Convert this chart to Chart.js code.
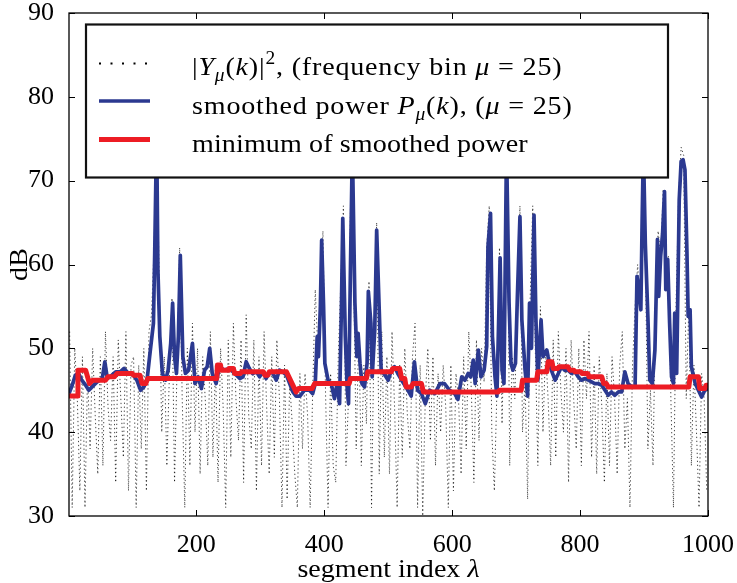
<!DOCTYPE html>
<html>
<head>
<meta charset="utf-8">
<script src="https://cdn.jsdelivr.net/npm/chart.js@4.4.0/dist/chart.umd.min.js"></script>
<style>
  html, body { margin: 0; padding: 0; background: #fff; }
</style>
</head>
<body>
<canvas id="c" width="737" height="583"></canvas>
<script>
// axis ticks
const xTicks = [200, 400, 600, 800, 1000];
const yTicks = [30, 40, 50, 60, 70, 80, 90];

// raw power |Y_mu(k)|^2 in dB, one value every 4 segments starting at segment 2
const noiseStart = 2;
const noiseStep = 4;
const noiseDb = [
  52, 31, 50, 44, 33, 49, 31, 47, 38, 50, 42, 35, 49, 36, 52, 43, 39, 49, 34, 51, 44, 37, 52, 33, 48,
  49, 31, 48, 38, 50, 33, 52, 54, 62, 77, 58, 40, 49, 36, 47, 56, 34, 48, 62, 44, 31, 50, 36, 53, 40,
  50, 35, 49, 44, 36, 52, 37, 48, 34, 50, 43, 31, 51, 37, 53, 44, 39, 51, 34, 54, 42, 38, 51, 33, 49,
  36, 52, 43, 35, 49, 37, 51, 44, 31, 48, 32, 46, 41, 35, 31, 47, 38, 47, 42, 31, 45, 57, 50, 56, 64,
  45, 31, 47, 36, 34, 49, 58, 67, 36, 44, 74, 59, 38, 52, 36, 48, 41, 58, 31, 52, 65, 35, 52, 37, 49,
  35, 52, 43, 31, 48, 37, 50, 42, 38, 49, 53, 31, 48, 30, 44, 50, 39, 49, 36, 47, 40, 48, 43, 31, 48,
  33, 47, 44, 35, 49, 38, 52, 45, 34, 51, 39, 50, 46, 62, 67, 40, 33, 45, 62, 41, 55, 74, 36, 49, 44,
  56, 67, 40, 46, 32, 56, 67, 50, 36, 55, 40, 50, 44, 36, 51, 37, 52, 45, 40, 50, 34, 51, 44, 38, 50,
  36, 51, 44, 52, 37, 48, 35, 49, 43, 34, 47, 36, 49, 44, 35, 48, 52, 38, 44, 31, 48, 55, 60, 55, 75,
  62, 38, 45, 36, 55, 64, 61, 69, 58, 61, 44, 31, 55, 68, 74, 73, 44, 55, 36, 48, 40, 31, 47, 44, 33
];

// smoothed power P_mu(k)
const blueX = [
  1, 6, 11, 16, 21, 27, 32, 37, 45, 53, 57, 61, 68, 74, 81, 87, 94, 102, 107, 113,
  118, 123, 127, 130, 133, 135, 138, 140, 143, 147, 152, 156, 160, 163, 166, 169, 172, 175, 179, 183,
  188, 194, 198, 203, 208, 213, 217, 221, 225, 231, 236, 244, 252, 260, 268, 273, 278, 283, 288, 294,
  299, 304, 309, 315, 320, 325, 330, 335, 341, 346, 351, 356, 362, 369, 377, 382, 386, 389, 391, 394,
  396, 399, 401, 406, 411, 416, 420, 424, 427, 429, 433, 436, 438, 441, 444, 448, 451, 453, 456, 459,
  463, 467, 469, 473, 475, 479, 482, 486, 489, 495, 500, 505, 510, 515, 521, 526, 531, 536, 541, 546,
  552, 558, 565, 573, 581, 588, 596, 604, 609, 615, 620, 625, 629, 633, 636, 641, 645, 650, 654, 656,
  660, 663, 667, 670, 675, 678, 681, 685, 689, 692, 695, 699, 702, 706, 709, 714, 718, 721, 724, 728,
  731, 734, 739, 742, 748, 750, 755, 761, 766, 771, 776, 781, 787, 792, 797, 802, 808, 813, 818, 823,
  828, 834, 839, 844, 849, 854, 860, 865, 870, 875, 881, 886, 889, 892, 895, 897, 899, 902, 906, 909,
  913, 917, 921, 923, 926, 929, 932, 934, 937, 940, 943, 946, 948, 951, 955, 958, 961, 964, 967, 969,
  972, 974, 980, 985, 990, 995, 1000
];
const blueY = [
  44.6, 45.6, 46.8, 47.0, 46.2, 45.6, 45.0, 45.4, 46.0, 46.4, 48.4, 46.4, 46.8, 47.2, 47.2, 47.6, 47.0, 46.8, 46.2, 45.0,
  45.4, 46.2, 49.0, 51.0, 53.0, 61.3, 76.0, 59.4, 51.4, 47.0, 46.2, 47.4, 50.6, 55.4, 49.0, 47.0, 51.4, 61.1, 49.0, 47.0,
  47.4, 50.6, 45.8, 46.6, 45.2, 47.4, 47.8, 50.0, 47.0, 45.8, 47.8, 47.4, 47.6, 47.0, 46.4, 46.6, 48.4, 47.6, 47.0, 47.2,
  46.6, 47.2, 46.4, 47.2, 47.0, 46.2, 47.4, 47.2, 46.8, 45.8, 44.8, 44.3, 44.3, 45.0, 45.0, 44.6, 45.8, 51.4, 49.0, 55.0,
  62.9, 55.0, 48.2, 46.2, 45.8, 44.0, 45.8, 43.4, 55.4, 65.5, 51.4, 45.0, 43.4, 59.4, 74.0, 55.4, 49.0, 51.8, 48.2, 45.8,
  45.4, 48.2, 56.8, 53.0, 46.6, 52.2, 64.1, 54.6, 47.4, 46.8, 46.2, 47.4, 47.8, 47.0, 46.2, 45.6, 45.0, 44.3, 48.4, 45.0,
  44.6, 43.4, 45.0, 44.6, 45.8, 45.8, 45.0, 44.6, 43.9, 46.6, 46.2, 47.0, 46.6, 48.6, 45.8, 49.8, 46.6, 47.4, 50.2, 62.1,
  66.1, 51.4, 46.6, 44.3, 60.8, 47.4, 45.8, 74.0, 55.4, 48.2, 47.4, 48.2, 56.2, 65.7, 53.4, 47.4, 44.3, 55.4, 50.0, 65.9,
  53.4, 46.2, 53.4, 49.0, 49.8, 49.0, 47.4, 46.2, 47.0, 47.8, 47.4, 47.4, 47.0, 47.2, 46.6, 46.2, 46.4, 46.2, 46.0, 45.8,
  45.8, 45.6, 45.0, 44.4, 44.8, 44.4, 44.8, 44.8, 47.2, 45.8, 45.4, 45.4, 58.6, 57.0, 54.6, 65.0, 74.0, 62.5, 53.8, 46.2,
  45.8, 49.8, 63.0, 56.2, 61.0, 63.7, 68.7, 57.0, 60.6, 53.0, 46.6, 45.8, 54.2, 47.0, 67.7, 72.3, 72.5, 71.3, 61.7, 53.8,
  54.6, 47.8, 45.8, 45.0, 44.2, 45.0, 45.2
];

// minimum of smoothed power
const redX = [
  1, 14, 15, 27, 33, 38, 58, 62, 72, 76, 100, 102, 112, 115, 121, 124, 232, 233, 238, 239,
  250, 251, 258, 260, 269, 271, 305, 307, 312, 314, 341, 356, 360, 381, 385, 439, 441, 466, 468, 505,
  507, 518, 521, 526, 528, 536, 539, 552, 555, 672, 674, 708, 710, 732, 734, 748, 750, 756, 758, 765,
  767, 781, 784, 790, 792, 801, 803, 812, 814, 834, 837, 841, 844, 970, 972, 985, 987, 995, 997, 1000
];
const redY = [
  44.3, 44.3, 47.4, 47.4, 45.8, 46.2, 46.2, 46.6, 46.6, 47.0, 47.0, 46.8, 46.8, 45.8, 45.8, 46.4, 46.4, 48.0, 48.0, 47.4,
  47.4, 47.6, 47.6, 47.0, 47.0, 47.2, 47.2, 46.8, 46.8, 47.2, 47.2, 44.8, 45.2, 45.2, 45.8, 45.8, 46.4, 46.4, 47.2, 47.2,
  47.6, 47.6, 46.4, 46.4, 45.4, 45.4, 45.8, 45.8, 44.8, 44.8, 45.0, 45.0, 46.2, 46.2, 47.2, 47.2, 48.4, 48.4, 47.6, 47.6,
  47.8, 47.8, 47.4, 47.4, 47.2, 47.2, 47.0, 47.0, 46.6, 46.6, 45.8, 45.8, 45.4, 45.4, 46.6, 46.6, 45.2, 45.2, 45.6, 45.6
];

const legendRows = [
  [['|', ''], ['Y', 'i'], ['μ', 'is'], ['(', ''], ['k', 'i'], [')|', ''], ['2', 'p'], [', (frequency bin ', ''], ['μ', 'i'], [' = 25)', '']],
  [['smoothed power ', ''], ['P', 'i'], ['μ', 'is'], ['(', ''], ['k', 'i'], ['), (', ''], ['μ', 'i'], [' = 25)', '']],
  [['minimum of smoothed power', '']]
];
const legendSpacing = [0.75, 0.75, 0.1];

const FONT = '"Liberation Serif", "Times New Roman", serif';
const BLUE = '#2b3990';
const RED = '#ed1c24';

function pts(xs, ys) {
  return xs.map((x, i) => ({ x: x, y: ys[i] }));
}
const noisePts = noiseDb.map((v, i) => ({ x: noiseStart + i * noiseStep, y: v }));

function setRunFont(ctx, f) {
  const small = f.includes('s') || f.includes('p');
  ctx.font = (f.includes('i') ? 'italic ' : '') + (small ? 18 : 26) + 'px ' + FONT;
}
// text with italic / sub / superscript runs, slightly widened like CM
function runWidth(ctx, runs, ls) {
  let w = 0;
  runs.forEach(([t, f]) => {
    setRunFont(ctx, f);
    for (const ch of t) w += ctx.measureText(ch).width + ls;
  });
  return w * 1.08;
}
function drawRuns(ctx, runs, x, y, ls) {
  ctx.save();
  ctx.translate(x, y);
  ctx.scale(1.08, 1);
  ctx.fillStyle = '#000';
  ctx.textBaseline = 'alphabetic';
  ctx.textAlign = 'left';
  let cx = 0;
  runs.forEach(([t, f]) => {
    setRunFont(ctx, f);
    const dy = f.includes('s') ? 6 : (f.includes('p') ? -11 : 0);
    for (const ch of t) {
      ctx.fillText(ch, cx, dy);
      cx += ctx.measureText(ch).width + ls;
    }
  });
  ctx.restore();
}

const framePlugin = {
  id: 'frame',
  afterDatasetsDraw(chart) {
    const { ctx, chartArea: a, scales: { x, y } } = chart;
    ctx.save();
    // box
    ctx.strokeStyle = '#000';
    ctx.lineWidth = 1.3;
    ctx.strokeRect(a.left, a.top, a.right - a.left, a.bottom - a.top);
    // inward ticks on all sides
    ctx.beginPath();
    xTicks.forEach(v => {
      const px = Math.round(x.getPixelForValue(v)) + 0.5;
      ctx.moveTo(px, a.bottom); ctx.lineTo(px, a.bottom - 6);
      ctx.moveTo(px, a.top); ctx.lineTo(px, a.top + 6);
    });
    yTicks.forEach(v => {
      const py = Math.round(y.getPixelForValue(v)) + 0.5;
      ctx.moveTo(a.left, py); ctx.lineTo(a.left + 6, py);
      ctx.moveTo(a.right, py); ctx.lineTo(a.right - 6, py);
    });
    ctx.lineWidth = 1;
    ctx.stroke();

    // legend
    const lx = a.left + 17, ly = a.top + 11.5, lw = 582, lh = 153;
    ctx.fillStyle = '#fff';
    ctx.fillRect(lx, ly, lw, lh);
    ctx.lineWidth = 2.2;
    ctx.strokeStyle = '#111';
    ctx.strokeRect(lx, ly, lw, lh);

    const sx0 = lx + 13, sx1 = lx + 64;
    // dotted sample
    ctx.fillStyle = '#000';
    for (let d = sx0; d <= sx1; d += 11.5) ctx.fillRect(d, ly + 38, 2, 2);
    // blue sample
    ctx.beginPath(); ctx.moveTo(sx0, ly + 76.5); ctx.lineTo(sx1, ly + 76.5);
    ctx.strokeStyle = BLUE; ctx.lineWidth = 3.5; ctx.stroke();
    // red sample
    ctx.beginPath(); ctx.moveTo(sx0, ly + 115); ctx.lineTo(sx1, ly + 115);
    ctx.strokeStyle = RED; ctx.lineWidth = 5; ctx.stroke();

    const tx = lx + 106;
    drawRuns(ctx, legendRows[0], tx, ly + 50.5, legendSpacing[0]);
    drawRuns(ctx, legendRows[1], tx, ly + 89, legendSpacing[1]);
    drawRuns(ctx, legendRows[2], tx, ly + 127.5, legendSpacing[2]);
    ctx.restore();
  },
  afterDraw(chart) {
    const { ctx, chartArea: a } = chart;
    ctx.save();
    // x title
    const xt = [['segment index ', ''], ['λ', 'i']];
    const w = runWidth(ctx, xt, 0);
    drawRuns(ctx, xt, (a.left + a.right) / 2 - w / 2, 577, 0);
    // y title
    ctx.translate(20, (a.top + a.bottom) / 2);
    ctx.rotate(-Math.PI / 2);
    ctx.scale(1.08, 1);
    ctx.font = '26px ' + FONT;
    ctx.fillStyle = '#000';
    ctx.textAlign = 'center';
    ctx.textBaseline = 'middle';
    ctx.fillText('dB', 0, 0);
    ctx.restore();
  }
};

// keep the plot box fixed: labels may overhang it like in the original
function fixBox(size, dim) {
  return s => {
    s[dim] = size;
    s.paddingLeft = 0; s.paddingRight = 0; s.paddingTop = 0; s.paddingBottom = 0;
  };
}

new Chart(document.getElementById('c'), {
  type: 'line',
  data: {
    datasets: [
      { label: 'minimum of smoothed power', data: pts(redX, redY), borderColor: RED, borderWidth: 5,
        pointRadius: 0, order: 0, borderJoinStyle: 'round', tension: 0 },
      { label: 'smoothed power', data: pts(blueX, blueY), borderColor: BLUE, borderWidth: 3.7,
        pointRadius: 0, order: 1, borderJoinStyle: 'round', tension: 0 },
      { label: '|Y|^2', data: noisePts, borderColor: 'rgba(0,0,0,0.72)', borderWidth: 1, borderDash: [1.3, 2.7],
        pointRadius: 0, order: 2, tension: 0 }
    ]
  },
  options: {
    responsive: false,
    animation: false,
    devicePixelRatio: 1,
    layout: { autoPadding: false, padding: { left: 0, right: 29, top: 13, bottom: 0 } },
    plugins: { legend: { display: false }, tooltip: { enabled: false } },
    scales: {
      x: {
        type: 'linear', min: 1, max: 1000,
        afterBuildTicks: s => { s.ticks = xTicks.map(v => ({ value: v })); },
        afterFit: fixBox(67, 'height'),
        grid: { display: false }, border: { display: false },
        ticks: { color: '#000', font: { family: FONT, size: 26, lineHeight: 1 }, padding: 8, maxRotation: 0, autoSkip: false,
          callback: v => String(v) }
      },
      y: {
        type: 'linear', min: 30, max: 90,
        afterBuildTicks: s => { s.ticks = yTicks.map(v => ({ value: v })); },
        afterFit: fixBox(69, 'width'),
        grid: { display: false }, border: { display: false },
        ticks: { color: '#000', font: { family: FONT, size: 26, lineHeight: 1 }, padding: 7, autoSkip: false,
          callback: v => String(v) }
      }
    }
  },
  plugins: [framePlugin]
});
</script>
</body>
</html>
